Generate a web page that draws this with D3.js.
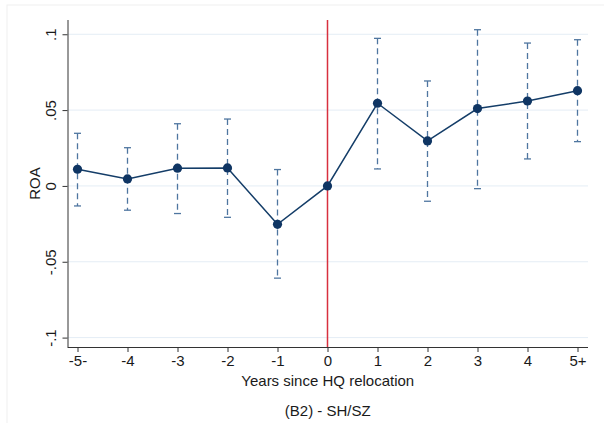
<!DOCTYPE html>
<html>
<head>
<meta charset="utf-8">
<script src="https://cdn.jsdelivr.net/npm/d3@7"></script>
<style>
  body { margin: 0; background: #fff; }
  svg { display: block; font-family: "Liberation Sans", Arial, sans-serif; }
</style>
</head>
<body>
<svg width="604" height="423"></svg>
<script>
// event-time coefficients
let years = [-5, -4, -3, -2, -1, 0, 1, 2, 3, 4, 5];
let yearLabels = ['-5-', '-4', '-3', '-2', '-1', '0', '1', '2', '3', '4', '5+'];
let est = [0.011, 0.0046, 0.0117, 0.0119, -0.0253, 0, 0.0545, 0.0297, 0.051, 0.056, 0.0628];
let lower = [-0.0132, -0.016, -0.0182, -0.0207, -0.0608, null, 0.0112, -0.0101, -0.0018, 0.0178, 0.0292];
let upper = [0.0347, 0.0252, 0.041, 0.0441, 0.0108, null, 0.0973, 0.0692, 0.103, 0.0942, 0.0964];
let yTicks = [-0.1, -0.05, 0, 0.05, 0.1];
let yTickLabels = ['-.1', '-.05', '0', '.05', '.1'];

let svg = d3.select('svg');
let plotLeft = 67.5, plotRight = 588, plotTop = 20, plotBottom = 347;

// faint outer frame
svg.append('rect')
    .attr('x', 7).attr('y', 5)
    .attr('width', 620).attr('height', 440)
    .attr('fill', 'none')
    .attr('stroke', '#f0f0f0')

let xScale = d3.scaleLinear()
    .domain([-5.2, 5.21])
    .range([plotLeft, plotRight]);

let yScale = d3.scaleLinear()
    .domain([-0.1062, 0.1094])
    .range([plotBottom, plotTop]);

// gridlines
svg.append('g')
    .selectAll('line')
    .data(yTicks)
    .enter()
    .append('line')
    .attr('x1', plotLeft).attr('x2', plotRight)
    .attr('y1', d => yScale(d)).attr('y2', d => yScale(d))
    .attr('stroke', '#e4edf5')
    .attr('stroke-width', 1)

// axes
let xAxis = d3.axisBottom(xScale)
    .tickValues(years)
    .tickFormat((d, i) => yearLabels[i])
    .tickSize(5)
    .tickPadding(3);

let yAxis = d3.axisLeft(yScale)
    .tickValues(yTicks)
    .tickFormat((d, i) => yTickLabels[i])
    .tickSize(5)
    .tickPadding(4);

let gx = svg.append('g')
    .attr('transform', 'translate(0,' + plotBottom + ')')
    .call(xAxis);
gx.select('.domain').attr('d', 'M' + plotLeft + ',0.5H' + plotRight);

let gy = svg.append('g')
    .attr('transform', 'translate(' + plotLeft + ',0)')
    .call(yAxis);
gy.select('.domain').attr('d', 'M0.5,' + plotTop + 'V' + plotBottom);

svg.selectAll('.domain, .tick line').attr('stroke', '#333').attr('stroke-width', 1);
svg.selectAll('.tick text')
    .attr('fill', '#1a1a1a')
    .style('font-size', '15px')
    .style('font-family', '"Liberation Sans", Arial, sans-serif');

gy.selectAll('.tick text')
    .attr('text-anchor', 'middle')
    .attr('transform', 'rotate(-90)')
    .attr('x', 0)
    .attr('y', -12)
    .attr('dy', 0)

// red vertical line at year 0
svg.append('line')
    .attr('x1', xScale(0)).attr('x2', xScale(0))
    .attr('y1', plotTop).attr('y2', plotBottom)
    .attr('stroke', '#d8303f')
    .attr('stroke-width', 1.5)

// error bars
let ci = years.map((y, i) => ({ y: y, lo: lower[i], hi: upper[i] }))
    .filter(d => d.lo !== null);

let bars = svg.append('g')
    .attr('stroke', '#4f76a0')
    .attr('stroke-width', 1.3)

bars.selectAll('.ci')
    .data(ci)
    .enter()
    .append('line')
    .attr('x1', d => xScale(d.y)).attr('x2', d => xScale(d.y))
    .attr('y1', d => yScale(d.hi)).attr('y2', d => yScale(d.lo))
    .attr('stroke-dasharray', '6,4')

bars.selectAll('.capHi')
    .data(ci)
    .enter()
    .append('line')
    .attr('x1', d => xScale(d.y) - 3.5).attr('x2', d => xScale(d.y) + 3.5)
    .attr('y1', d => yScale(d.hi)).attr('y2', d => yScale(d.hi))

bars.selectAll('.capLo')
    .data(ci)
    .enter()
    .append('line')
    .attr('x1', d => xScale(d.y) - 3.5).attr('x2', d => xScale(d.y) + 3.5)
    .attr('y1', d => yScale(d.lo)).attr('y2', d => yScale(d.lo))

// connected line and markers
let pts = years.map((y, i) => [y, est[i]]);
let line = d3.line()
    .x(d => xScale(d[0]))
    .y(d => yScale(d[1]));

svg.append('path')
    .datum(pts)
    .attr('d', line)
    .attr('fill', 'none')
    .attr('stroke', '#143d68')
    .attr('stroke-width', 1.5)

svg.selectAll('.pt')
    .data(pts)
    .enter()
    .append('circle')
    .attr('cx', d => xScale(d[0]))
    .attr('cy', d => yScale(d[1]))
    .attr('r', 4.6)
    .attr('fill', '#0f3563')

// titles
svg.append('text')
    .attr('x', (plotLeft + plotRight) / 2)
    .attr('y', 386)
    .attr('text-anchor', 'middle')
    .attr('fill', '#1a1a1a')
    .style('font-size', '15px')
    .text('Years since HQ relocation')

svg.append('text')
    .attr('transform', 'translate(40,' + ((plotTop + plotBottom) / 2) + ') rotate(-90)')
    .attr('text-anchor', 'middle')
    .attr('fill', '#1a1a1a')
    .style('font-size', '15px')
    .text('ROA')

svg.append('text')
    .attr('x', (plotLeft + plotRight) / 2)
    .attr('y', 416)
    .attr('text-anchor', 'middle')
    .attr('fill', '#1a1a1a')
    .style('font-size', '15px')
    .text('(B2) - SH/SZ')
</script>
</body>
</html>
